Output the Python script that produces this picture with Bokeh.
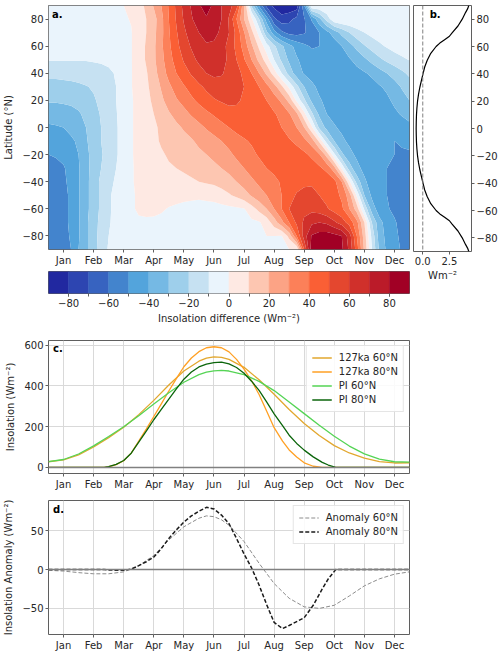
import numpy as np
from bokeh.plotting import figure
from bokeh.layouts import column, row
from bokeh.models import FixedTicker, Span, Label, Legend, LegendItem, Range1d
from bokeh.embed import file_html
from bokeh.resources import INLINE

FONT = "DejaVu Sans"
TXT = "#262626"
FRAME = "#5f5f5f"

# ---------------- data ----------------
month_names = ["Jan", "Feb", "Mar", "Apr", "May", "Jun", "Jul", "Aug", "Sep", "Oct", "Nov", "Dec"]
month_ticks = [0.5, 1.5, 2.5, 3.5, 4.5, 5.5, 6.5, 7.5, 8.5, 9.5, 10.5, 11.5]

# panel a: insolation difference (127ka - PI), month (0-12) x latitude
grid_months = [0.0, 0.25, 0.5, 0.75, 1.0, 1.25, 1.5, 1.75, 2.0, 2.25, 2.5, 2.75,
               3.0, 3.25, 3.5, 3.75, 4.0, 4.25, 4.5, 4.75, 5.0, 5.25, 5.5, 5.75,
               6.0, 6.25, 6.5, 6.75, 7.0, 7.25, 7.5, 7.75, 8.0, 8.25, 8.5, 8.75,
               9.0, 9.25, 9.5, 9.75, 10.0, 10.25, 10.5, 10.75, 11.0, 11.25, 11.5, 11.75, 12.0]
grid_lats = [-90, -80, -70, -60, -50, -40, -30, -20, -10, 0, 10, 20, 30, 40, 50, 60, 70, 80, 90]

diff_lat_m90 = [-56,-55,-53,-50,-40,-32,-24,-15,-9,-6,-3,-1, 0,0,0,0,0,0,0,0,0,0,0,0,0,0,0,0,0,0,0,0,0,0, 50,86,89,89,88,82,68,45,18,-10,-32,-42,-47,-51,-56]
diff_lat_m80 = [-56,-55,-53,-49,-41,-32,-24,-16,-10,-7,-4,-2, -1,-1,-1,-0.5, 0,0,0,0,0,0,0,0,0,0,0,0,0,0,0,-0.5, 13,40,65,81,84,85,83,80,65,40,15,-13,-35,-43,-48,-52,-56]
diff_lat_m70 = [-56,-55,-53,-48,-41,-32,-24,-17,-11,-7,-4,-2, -1,-1,-1.5,-2,-2.5,-3,-3.5,-4,-4,-4,-4,-3.5,-3,-3,-2.5,-2,-1, 4,15,27,40,52,62,68,70,68,62,55,46,33,10,-20,-37,-44,-49,-53,-56]
diff_lat_m60 = [-57,-56,-53,-48,-41,-33,-25,-18,-11,-8,-5,-1, 1,1.5,2,1,-0.5,-1.5,-2,-3,-4,-4,-4,-3,-2.5,-1.5,-0.5, 6,13,20,30,40,50,54,57,57,55,51,46,42,30,15,-12,-35,-45,-49,-52,-55,-57]
diff_lat_m50 = [-57,-56,-53,-48,-41,-33,-25,-18,-11,-8,-5,-1, 1,2,3,3,3,3,2,2,2,3,4,6,9,12,16,21,26,30,35,40,46,51,53,52,50,47,44,38,25,-2,-30,-42,-48,-50,-53,-55,-57]
diff_lat_m40 = [-56,-55,-52,-47,-41,-33,-25,-18,-12,-9,-5,-1, 2,3,5,6,7,8,8,9,10,11,12,14,16,20,24,28,32,35,38,41,44,46,48,49,49,47,43,30,2,-24,-38,-45,-48,-50,-52,-54,-56]
diff_lat_m30 = [-54,-53,-51,-46,-41,-33,-26,-20,-14,-10,-6,-1, 2,4,6,7,9,10,11,12,14,16,18,20,23,26,30,34,37,40,42,44,45,46,46,45,42,37,24,-2,-25,-37,-43,-46,-48,-50,-51,-53,-54]
diff_lat_m20 = [-50,-49,-47,-44,-40,-32,-27,-21,-16,-11,-6,-1, 3,5,7,9,11,12,14,16,18,20,22,25,28,32,35,38,41,43,44,45,45,44,42,38,31,16,-8,-28,-37,-42,-45,-47,-48,-49,-50,-51,-51]
diff_lat_m10 = [-47,-46,-45,-42,-38,-31,-26,-20,-16,-11,-6,-1, 3,5,8,11,13,15,17,19,22,24,27,30,33,36,39,41,43,44,44,43,41,38,33,25,8,-15,-30,-38,-42,-44,-46,-47,-48,-49,-50,-49,-48]
diff_lat_0 = [-42,-41,-40,-37,-33,-30,-25,-20,-16,-11,-6,-1, 3,5,8,12,15,18,21,24,27,31,34,37,40,43,44,45,45,45,43,40,36,30,20,2,-22,-33,-39,-42,-44,-45,-46,-47,-48,-48,-47,-45,-43]
diff_lat_10 = [-35,-35,-34,-33,-31,-28,-24,-19,-15,-10.5,-6,-1, 3,6,10,15,19,23,27,31,35,38,41,44,47,48,48,47,46,44,41,37,31,22,3,-18,-32,-40,-43,-45,-46,-47,-48,-48,-47,-45,-42,-39,-36]
diff_lat_20 = [-29,-29,-28.5,-28,-27,-24,-21,-18,-14,-10,-6,-1, 3,7,12,18,24,29,33,38,42,46,49,51,52,51,49,47,44,40,35,28,17,-2,-18,-32,-39,-42,-44,-45,-46,-47,-47,-46,-44,-42,-38,-34,-30]
diff_lat_30 = [-24,-24,-23.5,-23,-22,-20.5,-19,-17,-14,-10,-6,-0.5, 4,8,14,21,28,34,39,44,48,52,55,56,55,53,50,46,40,33,24,12,-2,-17,-30,-38,-42,-44,-45,-46,-46,-46,-45,-44,-41,-38,-34,-29,-25]
diff_lat_40 = [-17,-17,-16.5,-16,-15.5,-15,-14.5,-13.5,-12,-9,-5,-0.5, 4,9,16,25,33,40,46,51,56,60,62,61,57,53,48,40,30,18,5,-10,-24,-35,-41,-43,-45,-46,-46,-46,-45,-43,-41,-38,-34,-30,-26,-22,-18]
diff_lat_50 = [-9.5,-9.5,-9.5,-9.5,-9.5,-9.5,-9,-8.5,-7.5,-5.5,-3,-0.5, 5,11,18,27,36,44,51,57,62,65,66,64,58,50,41,30,17,5,-10,-22,-32,-39,-43,-46,-48,-48,-47,-45,-41,-37,-32,-27,-22,-18,-15,-12,-9.5]
diff_lat_60 = [-1,-1.5,-2,-3,-4,-5,-5.5,-5.7,-5.5,-4.5,-3,-0.5, 5,11,18,28,38,47,55,61,66,69,68,64,57,47,36,22,8,-6,-18,-28,-37,-43,-48,-51,-50,-48,-46,-40,-34,-27,-21,-16,-12,-9,-6,-4,-3]
diff_lat_70 = [-0.5,-0.5,-0.5,-1,-2,-3,-3.5,-4,-4,-3,-2,-0.5, 5,10,17,27,39,49,58,65,70,73,73,68,60,47,31,13,-4,-28,-46,-58,-63,-64,-61,-56,-50,-43,-35,-27,-20,-14,-10,-7,-5,-3,-2,-1,-0.5]
diff_lat_80 = [0,0,0,0,0,0,0,0,-0.5,-1,-1,0.5, 5,10,16,27,40,51,61,69,75,79,78,70,59,40,20,2,-20,-45,-68,-76,-73,-67,-61,-49,-33,-16,-2,0,0,0,0,0,0,0,0,0,0]
diff_lat_90 = [0,0,0,0,0,0,0,0,0,0,0,1, 6,12,21,30,41,52,63,71,79,84,78,70,64,54,22,-22,-52,-73,-83,-88,-88,-86,-50,0,0,0,0,0,0,0,0,0,0,0,0,0,0]

insol_diff = [diff_lat_m90, diff_lat_m80, diff_lat_m70, diff_lat_m60, diff_lat_m50, diff_lat_m40,
              diff_lat_m30, diff_lat_m20, diff_lat_m10, diff_lat_0, diff_lat_10, diff_lat_20,
              diff_lat_30, diff_lat_40, diff_lat_50, diff_lat_60, diff_lat_70, diff_lat_80, diff_lat_90]

levels = [-90, -80, -70, -60, -50, -40, -30, -20, -10, 0, 10, 20, 30, 40, 50, 60, 70, 80, 90]
palette = ["#2128a0", "#2d45b1", "#3763c0", "#4384cd", "#53a4dc", "#75b9e4", "#9ecfeb", "#c6e1f2",
           "#eaf4fc", "#fee9e3", "#fdc6b1", "#fca385", "#fc8059", "#fa5f35", "#e4472f", "#d0302b",
           "#bb1b29", "#a10025"]
cbar_ticks = [-80, -60, -40, -20, 0, 20, 40, 60, 80]

# panel b: annual-mean insolation difference by latitude
b_lats = [-90, -87.5, -85, -80, -75, -70, -67.5, -65, -62.5, -60, -55, -50, -45, -40, -35, -30, -25, -20, -15, -10, -5,
          0, 5, 10, 15, 20, 25, 30, 35, 40, 45, 50, 55, 60, 62.5, 65, 67.5, 70, 75, 80, 85, 87.5, 90]
b_vals = [4.32, 4.2, 4.02, 3.7, 3.3, 2.75, 2.5, 2.05, 1.6, 1.25, 0.75, 0.42, 0.18, 0.02, -0.13, -0.28, -0.4, -0.49, -0.55, -0.59, -0.61,
          -0.62, -0.61, -0.59, -0.55, -0.49, -0.4, -0.28, -0.13, 0.02, 0.18, 0.42, 0.75, 1.25, 1.6, 2.05, 2.5, 2.75, 3.3, 3.7, 4.02, 4.2, 4.32]

# panel c/d: insolation at 60N and 80N
m60 = [0, 0.5, 1, 1.5, 2, 2.5, 3, 3.5, 4, 4.5, 5, 5.25, 5.5, 5.75, 6, 6.5, 7, 7.5, 8, 8.5, 9, 9.5, 10, 10.5, 11, 11.5, 12]
pi_60 = [29, 39, 66, 106, 152, 200, 254, 311, 366, 418, 455, 467, 474, 476, 473, 455, 422, 377, 321, 264, 207, 153, 105, 67, 41, 28, 26]
ka127_60 = [28, 37, 62, 100.5, 146.5, 197, 259, 329, 404, 473, 521, 536, 542, 540, 530, 491, 430, 359, 284, 216, 157, 107, 71, 46, 29, 22, 23]
anom_60 = [-1, -2, -4, -5.5, -5.5, -3, 5, 18, 38, 55, 66, 69, 68, 64, 57, 36, 8, -18, -37, -48, -50, -46, -34, -21, -12, -6, -3]

m80 = [0, 0.5, 1, 1.5, 1.85, 2, 2.25, 2.5, 2.75, 3, 3.25, 3.5, 3.75, 4, 4.25, 4.5, 4.75, 5, 5.25, 5.5, 5.75, 6,
       6.25, 6.5, 6.75, 7, 7.25, 7.5, 7.78, 8, 8.25, 8.5, 8.8, 9.1, 9.3, 9.55, 10, 10.5, 11, 11.5, 12]
pi_80 = [0, 0, 0, 0, 0, 4, 15, 34, 70, 124, 178, 234, 285, 335, 385, 433, 468, 493, 507, 514, 517, 508,
         490, 462, 423, 378, 322, 263, 205, 158, 118, 85, 52, 25, 12, 0, 0, 0, 0, 0, 0]
ka127_80 = [0, 0, 0, 0, 0, 3.5, 14, 33, 70.5, 129, 188, 250, 312, 375, 436, 494, 537, 568, 587, 592, 587, 567,
            530, 482, 425, 358, 277, 195, 129, 86, 51, 23, 6, 0, 0, 0, 0, 0, 0, 0, 0]
anom_80 = [0, 0, 0, 0, 0, -0.5, -1, -1, 0.5, 5, 10, 16, 27, 40, 51, 61, 69, 75, 80, 78, 70, 59,
           40, 20, 2, -20, -45, -68, -76, -72, -67, -62, -46, -25, -12, 0, 0, 0, 0, 0, 0]

c_yticks = [0, 200, 400, 600]
d_yticks = [-50, 0, 50]
lat_ticks = [-80, -60, -40, -20, 0, 20, 40, 60, 80]


def minus(v):
    s = ("%g" % v)
    return s.replace("-", "\u2212")


def style(p):
    p.outline_line_color = FRAME
    p.outline_line_width = 1
    p.background_fill_color = "white"
    p.border_fill_color = "white"
    for ax in p.axis:
        ax.axis_line_color = None
        ax.major_tick_line_color = FRAME
        ax.minor_tick_line_color = None
        ax.major_tick_in = 0
        ax.major_tick_out = 3
        ax.major_label_standoff = 2
        ax.major_label_text_font = FONT
        ax.major_label_text_font_size = "10px"
        ax.major_label_text_color = TXT
        ax.axis_label_text_font = FONT
        ax.axis_label_text_font_size = "10px"
        ax.axis_label_text_font_style = "normal"
        ax.axis_label_text_color = TXT
        ax.axis_label_standoff = 5


def month_axis(p):
    p.xaxis.ticker = FixedTicker(ticks=month_ticks)
    p.xaxis.major_label_overrides = {t: n for t, n in zip(month_ticks, month_names)}


def panel_label(p, x, y, txt):
    p.add_layout(Label(x=x, y=y, text=txt, text_font=FONT, text_font_size="10px",
                       text_font_style="bold", text_color="black", text_baseline="top"))


# ---------------- panel a ----------------
pa = figure(width=411, height=268, x_range=Range1d(0, 12), y_range=Range1d(-90, 90),
            output_backend="svg", toolbar_location=None,
            min_border_left=45, min_border_right=2, min_border_top=5, min_border_bottom=17)
X, Y = np.meshgrid(np.array(grid_months), np.array(grid_lats))
Z = np.array(insol_diff, dtype=float)
pa.contour(X, Y, Z, levels=levels, fill_color=palette, line_color=None)
style(pa)
pa.grid.visible = False
month_axis(pa)
pa.yaxis.ticker = FixedTicker(ticks=lat_ticks)
pa.yaxis.major_label_overrides = {t: minus(t) for t in lat_ticks}
pa.yaxis.axis_label = "Latitude (\u00b0N)"
panel_label(pa, 0.12, 87.5, "a.")

# ---------------- colour bar ----------------
pcb = figure(width=411, height=62, x_range=Range1d(levels[0], levels[-1]), y_range=Range1d(0, 1),
             output_backend="svg", toolbar_location=None,
             min_border_left=45, min_border_right=2, min_border_top=3, min_border_bottom=37)
centers = [(levels[i] + levels[i + 1]) / 2 for i in range(len(palette))]
widths = [levels[i + 1] - levels[i] for i in range(len(palette))]
pcb.rect(x=centers, y=0.5, width=widths, height=1, fill_color=palette, line_color=palette, line_width=0.5)
style(pcb)
pcb.grid.visible = False
pcb.yaxis.visible = False
pcb.xaxis.ticker = FixedTicker(ticks=cbar_ticks, minor_ticks=[l for l in levels[1:-1]])
pcb.xaxis.major_label_overrides = {t: minus(t) for t in cbar_ticks}
pcb.xaxis.minor_tick_line_color = FRAME
pcb.xaxis.minor_tick_in = 0
pcb.xaxis.minor_tick_out = 3
pcb.xaxis.axis_label = "Insolation difference (Wm\u207b\u00b2)"
pcb.xaxis.axis_label_standoff = 3

# ---------------- panel b ----------------
pb = figure(width=89, height=330, x_range=Range1d(-0.87, 4.57), y_range=Range1d(-90, 90),
            y_axis_location="right", output_backend="svg", toolbar_location=None,
            min_border_left=2, min_border_right=28, min_border_top=5, min_border_bottom=79)
pb.add_layout(Span(location=0, dimension="height", line_color="#808080", line_dash="4 2", line_width=1))
pb.line(b_vals, b_lats, line_color="black", line_width=1.2)
style(pb)
pb.grid.visible = False
pb.xaxis.ticker = FixedTicker(ticks=[0, 2.5])
pb.xaxis.major_label_overrides = {0: "0.0", 2.5: "2.5"}
pb.xaxis.axis_label = "Wm\u207b\u00b2"
pb.xaxis.axis_label_standoff = 2
pb.yaxis.ticker = FixedTicker(ticks=lat_ticks)
pb.yaxis.major_label_overrides = {t: minus(t) for t in lat_ticks}
panel_label(pb, 0.65, 87.5, "b.")

# ---------------- panel c ----------------
pc = figure(width=411, height=162, x_range=Range1d(0, 12), y_range=Range1d(-29.6, 622.6),
            output_backend="svg", toolbar_location=None,
            min_border_left=45, min_border_right=2, min_border_top=10, min_border_bottom=17)
style(pc)
pc.xgrid.ticker = FixedTicker(ticks=month_ticks)
pc.ygrid.ticker = FixedTicker(ticks=c_yticks)
pc.grid.grid_line_color = "#d9d9d9"
pc.grid.grid_line_width = 1
pc.add_layout(Span(location=0, dimension="width", line_color="#808080", line_width=1.5))
l1 = pc.line(m60, ka127_60, line_color="#e2a72e", line_width=1.3)
l2 = pc.line(m80, ka127_80, line_color="#ffa024", line_width=1.3)
l3 = pc.line(m60, pi_60, line_color="#55d455", line_width=1.3)
l4 = pc.line(m80, pi_80, line_color="#0b650b", line_width=1.3)
month_axis(pc)
pc.yaxis.ticker = FixedTicker(ticks=c_yticks)
pc.yaxis.axis_label = "Insolation (Wm\u207b\u00b2)"
leg_c = Legend(items=[LegendItem(label="127ka 60\u00b0N", renderers=[l1]),
                      LegendItem(label="127ka 80\u00b0N", renderers=[l2]),
                      LegendItem(label="PI 60\u00b0N", renderers=[l3]),
                      LegendItem(label="PI 80\u00b0N", renderers=[l4])],
               location="top_right")
pc.add_layout(leg_c)
panel_label(pc, 0.15, 612, "c.")

# ---------------- panel d ----------------
pd_ = figure(width=411, height=162, x_range=Range1d(0, 12), y_range=Range1d(-83.6, 88.8),
             output_backend="svg", toolbar_location=None,
             min_border_left=45, min_border_right=2, min_border_top=8, min_border_bottom=20)
style(pd_)
pd_.xgrid.ticker = FixedTicker(ticks=month_ticks)
pd_.ygrid.ticker = FixedTicker(ticks=d_yticks)
pd_.grid.grid_line_color = "#d9d9d9"
pd_.grid.grid_line_width = 1
pd_.add_layout(Span(location=0, dimension="width", line_color="#808080", line_width=1.5))
d1 = pd_.line(m60, anom_60, line_color="#8c8c8c", line_width=1.0, line_dash="4 2")
d2 = pd_.line(m80, anom_80, line_color="#1a1a1a", line_width=1.5, line_dash="4 2")
month_axis(pd_)
pd_.yaxis.ticker = FixedTicker(ticks=d_yticks)
pd_.yaxis.major_label_overrides = {t: minus(t) for t in d_yticks}
pd_.yaxis.axis_label = "Insolation Anomaly (Wm\u207b\u00b2)"
leg_d = Legend(items=[LegendItem(label="Anomaly 60\u00b0N", renderers=[d1]),
                      LegendItem(label="Anomaly 80\u00b0N", renderers=[d2])],
               location="top_right")
pd_.add_layout(leg_d)
panel_label(pd_, 0.15, 84, "d.")

for lg in (leg_c, leg_d):
    lg.label_text_font = FONT
    lg.label_text_font_size = "10px"
    lg.label_text_color = TXT
    lg.glyph_width = 20
    lg.glyph_height = 13
    lg.label_height = 13
    lg.label_standoff = 7
    lg.spacing = 1
    lg.padding = 5
    lg.margin = 5
    lg.border_line_color = "#cccccc"
    lg.border_line_width = 1
    lg.background_fill_alpha = 0.85

layout = column(row(column(pa, pcb), pb), pc, pd_)

open("out.html", "w").write(file_html(layout, INLINE))
